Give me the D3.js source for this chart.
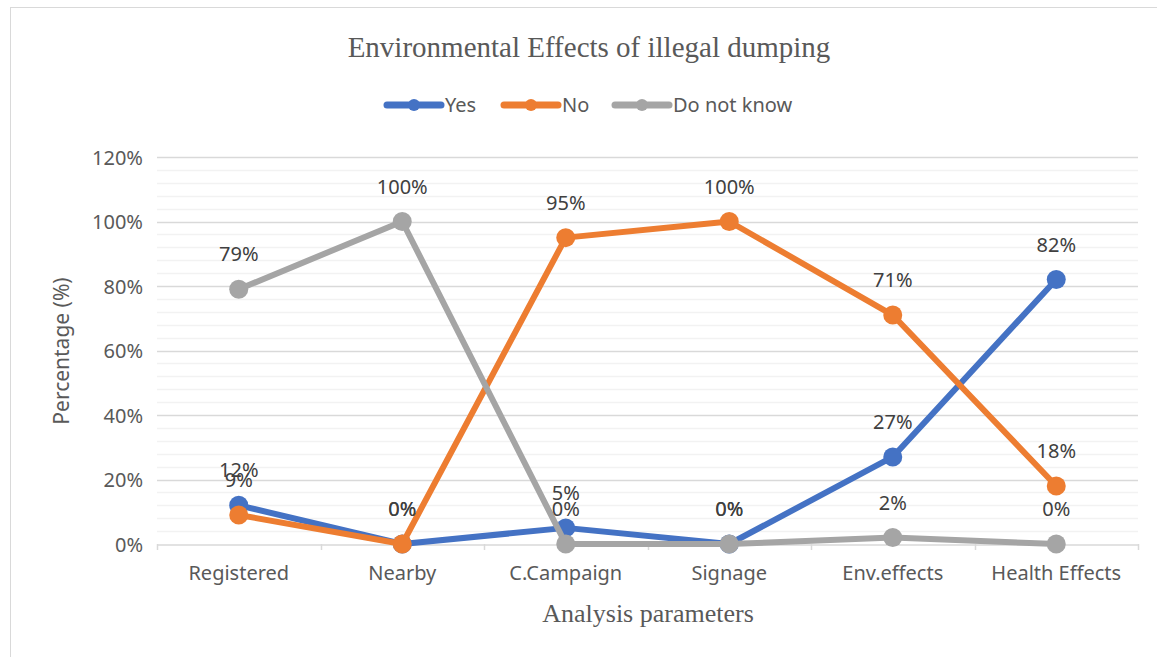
<!DOCTYPE html>
<html lang="en">
<head>
<meta charset="UTF-8">
<title>Environmental Effects of illegal dumping</title>
<script src="https://d3js.org/d3.v7.min.js"></script>
<style>
  body { margin: 0; background: #fff; }
  svg { display: block; }
  .sans { font-family: 'Noto Sans', 'Open Sans', sans-serif; fill: #595959; }
  .serif { font-family: 'Liberation Serif', 'DejaVu Serif', serif; fill: #595959; }
</style>
</head>
<body>
<svg width="1157" height="657"></svg>
<script>
// chart data
const categories = ['Registered', 'Nearby', 'C.Campaign', 'Signage', 'Env.effects', 'Health Effects'];
const yesValues = [12, 0, 5, 0, 27, 82];
const noValues = [9, 0, 95, 100, 71, 18];
const dontKnowValues = [79, 100, 0, 0, 2, 0];
const seriesNames = ['Yes', 'No', 'Do not know'];
const seriesColors = ['#4472C4', '#ED7D31', '#A5A5A5'];
const yTicks = [0, 20, 40, 60, 80, 100, 120];

const series = [yesValues, noValues, dontKnowValues].map((vals, i) => ({
  name: seriesNames[i],
  color: seriesColors[i],
  values: vals
}));

const svg = d3.select('svg');
const W = 1157, H = 657;
const plotLeft = 157, plotRight = 1138, plotTop = 157, plotBottom = 544;
const FS = 20; // Calibri-ish body text size

// outer frame (Excel chart area border)
svg.append('rect')
  .attr('x', 10.5).attr('y', 7.5)
  .attr('width', W).attr('height', H)
  .attr('fill', 'none').attr('stroke', '#d9d9d9').attr('stroke-width', 1);

const x = d3.scaleBand().domain(categories).range([plotLeft, plotRight]).padding(0);
const y = d3.scaleLinear().domain([0, 120]).range([plotBottom, plotTop]);
const cx = d => x(d) + x.bandwidth() / 2;

// minor gridlines every 4%
const minor = d3.range(4, 120, 4).filter(v => v % 20 !== 0);
svg.append('g').selectAll('line').data(minor).enter().append('line')
  .attr('x1', plotLeft).attr('x2', plotRight)
  .attr('y1', d => Math.round(y(d)) + 0.5).attr('y2', d => Math.round(y(d)) + 0.5)
  .attr('stroke', '#f2f2f2').attr('stroke-width', 1.5);

// major gridlines
svg.append('g').selectAll('line').data(yTicks.filter(v => v > 0)).enter().append('line')
  .attr('x1', plotLeft).attr('x2', plotRight)
  .attr('y1', d => Math.round(y(d)) + 0.5).attr('y2', d => Math.round(y(d)) + 0.5)
  .attr('stroke', '#d9d9d9').attr('stroke-width', 1.5);

// y axis labels
const yAxis = svg.append('g')
  .attr('transform', `translate(${plotLeft - 14},0)`)
  .call(d3.axisLeft(y).tickValues(yTicks).tickFormat(d => d + '%').tickSize(0));
yAxis.select('.domain').remove();
yAxis.selectAll('text')
  .attr('font-size', FS).attr('x', 0).attr('dy', '0.35em')
  .style('font-family', "'Noto Sans', 'Open Sans', sans-serif").attr('fill', '#595959');

// x axis
const xAxis = svg.append('g')
  .attr('transform', `translate(0,${Math.round(plotBottom) + 0.5})`)
  .call(d3.axisBottom(x).tickSize(0).tickPadding(21));
xAxis.select('.domain').attr('stroke', '#d9d9d9').attr('stroke-width', 1.5);
xAxis.selectAll('text')
  .attr('font-size', FS)
  .style('font-family', "'Noto Sans', 'Open Sans', sans-serif").attr('fill', '#595959');
// tick marks at category boundaries
const bounds = categories.map(c => x(c)).concat([plotRight]);
svg.append('g').selectAll('line').data(bounds).enter().append('line')
  .attr('x1', d => Math.round(d) + 0.5).attr('x2', d => Math.round(d) + 0.5)
  .attr('y1', plotBottom).attr('y2', plotBottom + 6)
  .attr('stroke', '#d9d9d9').attr('stroke-width', 1.5);

// lines and markers
const line = d3.line().x((d, i) => cx(categories[i])).y(d => y(d));
series.forEach(s => {
  svg.append('path').datum(s.values)
    .attr('d', line)
    .attr('fill', 'none').attr('stroke', s.color)
    .attr('stroke-width', 6).attr('stroke-linejoin', 'round').attr('stroke-linecap', 'round');
  svg.append('g').selectAll('circle').data(s.values).enter().append('circle')
    .attr('cx', (d, i) => cx(categories[i])).attr('cy', d => y(d))
    .attr('r', 9.5).attr('fill', s.color);
});

// data labels above points
series.forEach(s => {
  svg.append('g').selectAll('text').data(s.values).enter().append('text')
    .attr('class', 'sans')
    .attr('x', (d, i) => cx(categories[i]))
    .attr('y', d => y(d) - 28)
    .attr('text-anchor', 'middle').attr('font-size', FS)
    .style('fill', '#404040')
    .text(d => d + '%');
});

// title
svg.append('text').attr('class', 'serif')
  .attr('x', 589).attr('y', 57).attr('text-anchor', 'middle')
  .attr('font-size', 29).text('Environmental Effects of illegal dumping');

// legend
const legendX = [385, 502, 613];
const legend = svg.append('g');
series.forEach((s, i) => {
  const g = legend.append('g').attr('transform', `translate(${legendX[i]},105)`);
  g.append('line').attr('x1', 2).attr('x2', 56).attr('y1', 0).attr('y2', 0)
    .attr('stroke', s.color).attr('stroke-width', 7).attr('stroke-linecap', 'round');
  g.append('circle').attr('cx', 29).attr('cy', 0).attr('r', 6).attr('fill', s.color);
  g.append('text').attr('class', 'sans').attr('x', 60).attr('y', 0).attr('dy', '0.35em')
    .attr('font-size', FS).text(s.name);
});

// axis titles
svg.append('text').attr('class', 'sans')
  .attr('transform', 'translate(62,351) rotate(-90)')
  .attr('text-anchor', 'middle').attr('dy', '0.35em')
  .attr('font-size', 21).text('Percentage (%)');

svg.append('text').attr('class', 'serif')
  .attr('x', 648).attr('y', 622).attr('text-anchor', 'middle')
  .attr('font-size', 26).text('Analysis parameters');
</script>
</body>
</html>
